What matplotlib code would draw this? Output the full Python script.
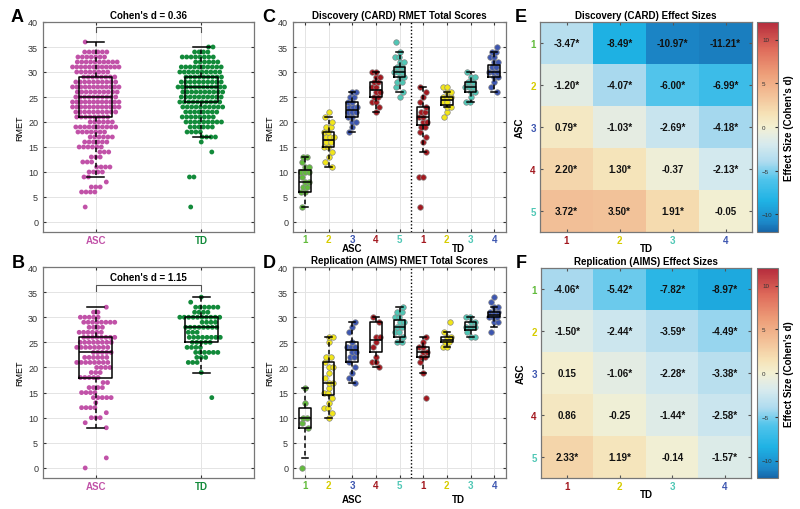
import matplotlib.pyplot as plt
import numpy as np
from matplotlib.colors import LinearSegmentedColormap

plt.rcParams['font.family'] = ['Liberation Sans', 'DejaVu Sans']

# ---------------- data ----------------
# panel A (discovery, all participants): score -> number of people
a_asc_vals = [36, 34, 33, 32, 31, 30, 29, 28, 27, 26, 25, 24, 23, 22, 21, 20, 19, 18, 17, 16, 15, 14, 13, 12, 11, 10, 9, 8, 7, 6, 3]
a_asc_counts = [1, 6, 7, 10, 12, 8, 8, 10, 12, 10, 10, 12, 12, 10, 8, 6, 10, 7, 6, 6, 6, 3, 3, 3, 4, 4, 2, 1, 3, 4, 1]
a_td_vals = [35, 34, 33, 32, 31, 30, 29, 28, 27, 26, 25, 24, 23, 22, 21, 20, 19, 18, 17, 16, 14, 9, 3]
a_td_counts = [2, 4, 8, 6, 10, 10, 9, 10, 12, 10, 10, 10, 10, 8, 8, 9, 6, 4, 4, 1, 1, 2, 1]

# panel B (replication, all participants)
b_asc_vals = [32, 31, 30, 29, 28, 27, 26, 25, 24, 23, 22, 21, 20, 19, 18, 17, 16, 15, 14, 13, 12, 11, 10, 9, 8, 2, 0]
b_asc_counts = [1, 2, 5, 8, 4, 6, 8, 8, 8, 5, 6, 8, 4, 3, 5, 2, 4, 4, 5, 1, 4, 1, 3, 1, 1, 1, 1]
b_td_vals = [34, 33, 32, 31, 30, 29, 28, 27, 26, 25, 24, 23, 22, 21, 19, 14]
b_td_counts = [1, 1, 6, 4, 10, 4, 8, 3, 8, 5, 4, 6, 3, 3, 1, 1]

# box summaries (q1, median, q3, lower whisker, upper whisker)
a_q1 = [21, 24]; a_med = [25, 27]; a_q3 = [29, 29]; a_lo = [9, 17]; a_hi = [36, 35]
b_q1 = [18, 25]; b_med = [23, 28]; b_q3 = [26, 30]; b_lo = [8, 19]; b_hi = [32, 34]
cohen_a = 0.36
cohen_b = 1.15

# panels C / D: subgroup scores (ASC 1-5, TD 1-4)
c_groups = [
    [3, 6, 6, 7, 7, 8, 8, 9, 10, 10, 10, 11, 11, 12, 13, 13],
    [11, 12, 13, 14, 15, 15, 16, 16, 17, 17, 17, 18, 18, 19, 19, 20, 21, 22],
    [18, 19, 20, 20, 21, 21, 22, 22, 22, 23, 23, 23, 24, 24, 25, 25, 26, 26],
    [22, 23, 24, 24, 25, 25, 26, 26, 27, 27, 28, 28, 29, 29, 30, 30],
    [25, 26, 27, 28, 28, 29, 29, 30, 30, 30, 31, 31, 32, 32, 33, 33, 34, 36],
    [3, 9, 9, 14, 16, 17, 18, 19, 19, 20, 20, 21, 21, 22, 22, 23, 24, 25, 26, 27],
    [21, 22, 23, 23, 24, 24, 25, 25, 25, 26, 26, 27, 27],
    [24, 24, 25, 26, 26, 27, 27, 27, 28, 28, 29, 29, 30],
    [26, 27, 28, 29, 29, 30, 30, 30, 31, 31, 32, 32, 33, 33, 34, 34, 35],
]
c_q1 = [6, 15, 21, 25, 29, 19.5, 23.5, 26, 29]
c_med = [8, 16.5, 22.5, 26.5, 30, 21, 24.5, 27, 30]
c_q3 = [10.5, 18, 24, 28, 31, 23, 25, 28, 31.5]
c_lo = [3, 11, 18, 22, 26, 14, 23, 24, 26]
c_hi = [13, 21, 26, 30, 34, 27, 26, 30, 34]

d_groups = [
    [0, 8, 9, 10, 10, 13, 16],
    [10, 11, 12, 12, 13, 14, 15, 15, 16, 17, 17, 18, 19, 20, 20, 21, 22, 22, 25, 26, 26],
    [17, 18, 19, 20, 21, 22, 22, 23, 23, 24, 24, 24, 25, 27, 28, 29],
    [20, 21, 21, 22, 24, 25, 26, 26, 29, 30],
    [25, 25, 26, 27, 27, 28, 28, 29, 29, 30, 30, 31, 31, 32],
    [14, 19, 21, 22, 22, 23, 23, 24, 24, 25, 26],
    [24, 24, 25, 25, 26, 26, 27, 29],
    [26, 26, 27, 28, 28, 28, 29, 29, 30, 30],
    [27, 29, 29, 30, 30, 30, 31, 31, 31, 32, 32, 33, 34],
]
d_q1 = [8, 14.5, 21, 23, 26, 22, 25, 27.5, 30]
d_med = [10, 17, 23.5, 25.5, 28, 23, 25.5, 28, 30.5]
d_q3 = [12, 21, 25, 29, 29.5, 24, 26, 29, 31]
d_lo = [2, 10, 17, 20, 25, 19, 24, 26, 28]
d_hi = [16, 26, 29, 30, 32, 26, 27, 30, 32]

group_ticks = ['1', '2', '3', '4', '5', '1', '2', '3', '4']

# panels E / F: effect sizes, rows ASC 1-5, cols TD 1-4
e_d = [[-3.47, -8.49, -10.97, -11.21],
       [-1.20, -4.07, -6.00, -6.99],
       [0.79, -1.03, -2.69, -4.18],
       [2.20, 1.30, -0.37, -2.13],
       [3.72, 3.50, 1.91, -0.05]]
e_sig = [[1, 1, 1, 1], [1, 1, 1, 1], [1, 1, 1, 1], [1, 1, 0, 1], [1, 1, 1, 0]]
f_d = [[-4.06, -5.42, -7.82, -8.97],
       [-1.50, -2.44, -3.59, -4.49],
       [0.15, -1.06, -2.28, -3.38],
       [0.86, -0.25, -1.44, -2.58],
       [2.33, 1.19, -0.14, -1.57]]
f_sig = [[1, 1, 1, 1], [1, 1, 1, 1], [0, 1, 1, 1], [0, 0, 1, 1], [1, 1, 0, 1]]

# ---------------- colours ----------------
ASC_COL = '#c152a8'
TD_COL = '#128a3a'
GREEN, YELLOW, BLUE, RED, TEAL = '#62bb3c', '#f2e618', '#3d56b0', '#a3181f', '#4fc7b5'
asc_cols = [GREEN, YELLOW, BLUE, RED, TEAL]
group_cols = asc_cols + [RED, YELLOW, TEAL, BLUE]
label_cols = [GREEN, '#d6cc00', BLUE, RED, TEAL, RED, '#d6cc00', TEAL, BLUE]

cmap_nodes = [(-12, '#1666a8'), (-11, '#1c86c7'), (-8.5, '#1fb2e4'), (-6, '#50c4eb'),
              (-4, '#aedbef'), (-2, '#d6eaee'), (-0.8, '#e8ede0'), (0, '#f3f0d2'),
              (1.5, '#f6e2b6'), (3.5, '#f3c39a'), (6, '#eea07a'), (9, '#de6a5a'),
              (12, '#b52b3c')]
cmap = LinearSegmentedColormap.from_list(
    'es', [((v + 12) / 24, c) for v, c in cmap_nodes])

FIG_W, FIG_H = 800, 510
fig = plt.figure(figsize=(8, 5.1), dpi=100)


def px(l, t, r, b):
    return [l / FIG_W, 1 - b / FIG_H, (r - l) / FIG_W, (b - t) / FIG_H]


def style(ax):
    ax.grid(True, color='#e4e4e4', lw=0.7)
    ax.set_axisbelow(True)
    for s in ax.spines.values():
        s.set_color('#777777')
        s.set_linewidth(0.9)
    ax.tick_params(labelsize=6.5, length=2, direction='in', colors='#333333',
                   top=True, right=True)
    ax.tick_params(axis='x', pad=2)
    ax.set_ylim(-2, 40)
    ax.set_yticks(range(0, 41, 5))


def swarm(ax, pos, values, color, step, max_w, size, edge='none', shift=0.0):
    vals, counts = np.unique(values, return_counts=True)
    for v, n in zip(vals, counts):
        w = min(max_w, (n - 1) * step / 2)
        # small alternating sideways shift so sparse rows do not line up
        c = pos + shift * ((int(v) % 3) - 1) * max(0.0, 1 - w / max_w)
        xs = c + np.linspace(-w, w, n)
        ax.scatter(xs, np.full(n, v), s=size, color=color, edgecolors=edge,
                   linewidths=0.5, zorder=2)


def boxes(ax, pos, q1, med, q3, lo, hi, width, capw):
    stats = [dict(q1=a, med=m, q3=b, whislo=l, whishi=h)
             for a, m, b, l, h in zip(q1, med, q3, lo, hi)]
    ax.bxp(stats, positions=pos, widths=width, capwidths=capw, showfliers=False,
           manage_ticks=False, zorder=4,
           boxprops=dict(color='k', lw=1.1),
           medianprops=dict(color='k', lw=1.1),
           whiskerprops=dict(color='k', lw=1.1, ls=(0, (3, 2))),
           capprops=dict(color='k', lw=1.1))


# ---------------- panels A / B ----------------
def overall_panel(rect, asc_v, asc_c, td_v, td_c, q1, med, q3, lo, hi):
    ax = fig.add_axes(px(*rect))
    style(ax)
    swarm(ax, 1, np.repeat(asc_v, asc_c), ASC_COL, 0.042, 0.22, 12, shift=0.1)
    swarm(ax, 2, np.repeat(td_v, td_c), TD_COL, 0.042, 0.22, 12, shift=0.1)
    boxes(ax, [1, 2], q1, med, q3, lo, hi, 0.31, 0.16)
    ax.set_xlim(0.5, 2.5)
    ax.set_xticks([1, 2])
    ax.set_xticklabels(['ASC', 'TD'], fontweight='bold', fontsize=7)
    for lab, c in zip(ax.get_xticklabels(), [ASC_COL, TD_COL]):
        lab.set_color(c)
    ax.set_ylabel('RMET', fontsize=6.5, labelpad=3)
    return ax


axA = overall_panel((43, 23, 254, 233), a_asc_vals, a_asc_counts, a_td_vals, a_td_counts,
                    a_q1, a_med, a_q3, a_lo, a_hi)
axA.plot([1, 1, 2, 2], [38, 39, 39, 38], color='#555555', lw=0.8)
axA.set_title(f"Cohen's d = {cohen_a:.2f}", fontsize=7, fontweight='bold', pad=3)

axB = overall_panel((43, 268, 254, 479), b_asc_vals, b_asc_counts, b_td_vals, b_td_counts,
                    b_q1, b_med, b_q3, b_lo, b_hi)
axB.plot([1, 1, 2, 2], [35.3, 36.5, 36.5, 35.3], color='#555555', lw=0.8)
axB.text(1.5, 38, f"Cohen's d = {cohen_b:.2f}", fontsize=7, fontweight='bold',
         ha='center', va='center')


# ---------------- panels C / D ----------------
def group_panel(rect, groups, q1, med, q3, lo, hi, title, label_y):
    ax = fig.add_axes(px(*rect))
    style(ax)
    pos = np.arange(1, len(groups) + 1)
    for p, g, c in zip(pos, groups, group_cols):
        swarm(ax, p, g, c, 0.17, 0.26, 16, edge='#8a8a8a', shift=0.14)
    boxes(ax, pos, q1, med, q3, lo, hi, 0.5, 0.28)
    ax.axvline(5.5, color='k', lw=1.0, ls=(0, (1, 1.5)), zorder=5)
    ax.set_xlim(0.5, 9.5)
    ax.set_xticks(pos)
    ax.set_xticklabels(group_ticks, fontweight='bold', fontsize=7)
    ax.tick_params(axis='x', pad=1.5)
    for lab, c in zip(ax.get_xticklabels(), label_cols):
        lab.set_color(c)
    ax.set_ylabel('RMET', fontsize=6.5, labelpad=3)
    ax.set_title(title, fontsize=7, fontweight='bold', pad=3)
    ax.text(3, label_y, 'ASC', fontsize=7, fontweight='bold', ha='center', va='center')
    ax.text(7.5, label_y, 'TD', fontsize=7, fontweight='bold', ha='center', va='center')
    return ax


group_panel((293, 23, 506, 233), c_groups, c_q1, c_med, c_q3, c_lo, c_hi,
            'Discovery (CARD) RMET Total Scores', -5.3)
group_panel((293, 268, 506, 479), d_groups, d_q1, d_med, d_q3, d_lo, d_hi,
            'Replication (AIMS) RMET Total Scores', -6.1)


# ---------------- panels E / F ----------------
def heat_panel(rect, crect, data, sig, title):
    ax = fig.add_axes(px(*rect))
    arr = np.array(data)
    im = ax.imshow(arr, cmap=cmap, vmin=-12, vmax=12, aspect='auto',
                   extent=(0.5, 4.5, 5.5, 0.5))
    for i in range(arr.shape[0]):
        for j in range(arr.shape[1]):
            txt = f'{arr[i, j]:.2f}' + ('*' if sig[i][j] else '')
            ax.text(j + 1, i + 1, txt, ha='center', va='center', fontsize=7,
                    fontweight='bold', color='#111111')
    ax.set_xticks(range(1, 5))
    ax.set_yticks(range(1, 6))
    ax.set_xticklabels(['1', '2', '3', '4'], fontweight='bold', fontsize=7)
    ax.set_yticklabels(['1', '2', '3', '4', '5'], fontweight='bold', fontsize=7)
    for lab, c in zip(ax.get_xticklabels(), [RED, '#d6cc00', TEAL, BLUE]):
        lab.set_color(c)
    for lab, c in zip(ax.get_yticklabels(), label_cols[:5]):
        lab.set_color(c)
    ax.tick_params(length=2, direction='in', top=True, right=True, color='#555555', pad=3)
    ax.tick_params(axis='x', pad=2)
    for s in ax.spines.values():
        s.set_color('#777777')
        s.set_linewidth(0.9)
    ax.set_xlabel('TD', fontsize=7, fontweight='bold', labelpad=-1)
    ax.set_ylabel('ASC', fontsize=7, fontweight='bold', labelpad=4)
    ax.set_title(title, fontsize=7, fontweight='bold', pad=3)
    cax = fig.add_axes(px(*crect))
    cb = fig.colorbar(im, cax=cax)
    cb.set_ticks([-10, -5, 0, 5, 10])
    cb.ax.tick_params(labelsize=4.5, length=2, direction='in', colors='#333333',
                      pad=-11.5)
    cb.outline.set_edgecolor('#777777')
    cb.set_label("Effect Size (Cohen's d)", fontsize=7, fontweight='bold')
    cb.ax.yaxis.set_label_coords(1.3, 0.5)
    return ax


heat_panel((540, 23, 752, 233), (757, 23, 778, 233), e_d, e_sig,
           'Discovery (CARD) Effect Sizes')
heat_panel((541, 269, 751, 479), (757, 269, 778, 479), f_d, f_sig,
           'Replication (AIMS) Effect Sizes')

# panel letters
for letter, x, y in [('A', 17, 17), ('B', 18, 263), ('C', 269, 17), ('D', 269, 263),
                     ('E', 521, 17), ('F', 521, 263)]:
    fig.text(x / FIG_W, 1 - y / FIG_H, letter, fontsize=13, fontweight='bold',
             ha='center', va='center')

fig.savefig('out.png', dpi=100, facecolor='white')
